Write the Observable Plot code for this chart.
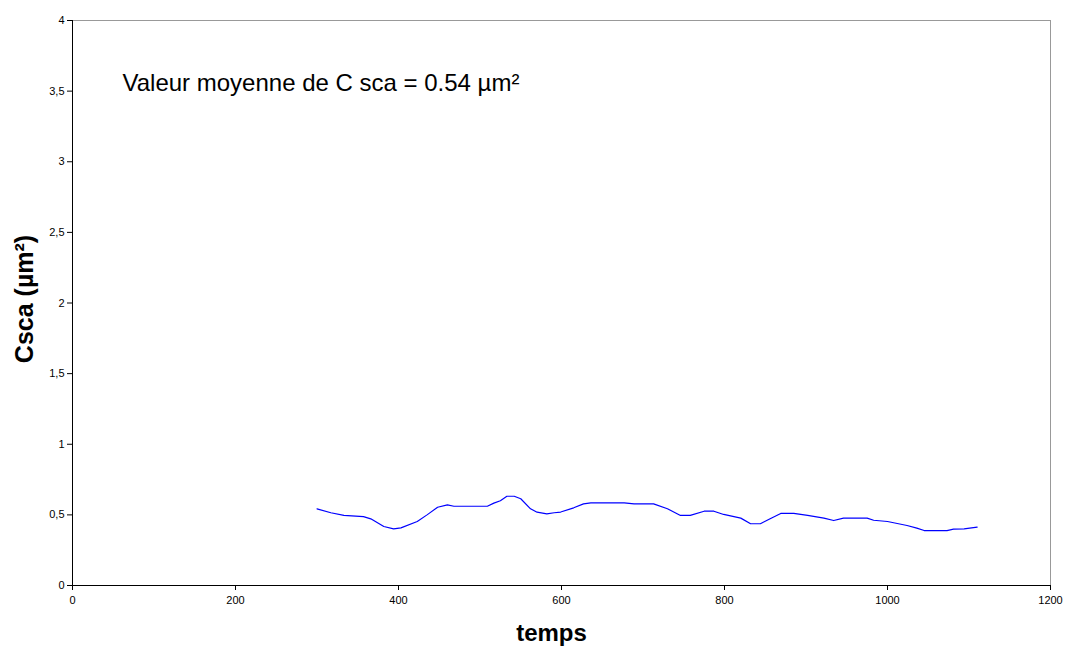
<!DOCTYPE html>
<html>
<head>
<meta charset="utf-8">
<script src="https://cdn.jsdelivr.net/npm/d3@7"></script>
<script src="https://cdn.jsdelivr.net/npm/@observablehq/plot@0.6"></script>
<style>
  html, body { margin: 0; padding: 0; background: #fff; }
  #chart { width: 1065px; height: 650px; }
  svg { font-family: "Liberation Sans", Arial, sans-serif; }
</style>
</head>
<body>
<div id="chart"></div>
<script>
const temps = [300, 317, 333, 357, 366, 382, 394, 403, 423, 435, 448, 460, 468, 509, 517, 525, 533, 542, 550, 562, 570, 582, 591, 599, 615, 627, 636, 677, 689, 713, 730, 746, 758, 775, 787, 799, 820, 832, 844, 856, 869, 885, 902, 922, 934, 946, 975, 983, 1000, 1024, 1036, 1045, 1073, 1081, 1094, 1110];
const csca  = [0.543, 0.515, 0.496, 0.488, 0.472, 0.418, 0.401, 0.408, 0.453, 0.50, 0.554, 0.571, 0.561, 0.561, 0.583, 0.60, 0.632, 0.632, 0.614, 0.543, 0.519, 0.507, 0.515, 0.52, 0.55, 0.578, 0.585, 0.585, 0.578, 0.578, 0.543, 0.496, 0.496, 0.526, 0.526, 0.503, 0.477, 0.437, 0.437, 0.472, 0.51, 0.51, 0.496, 0.477, 0.46, 0.477, 0.477, 0.462, 0.453, 0.425, 0.406, 0.389, 0.389, 0.399, 0.401, 0.413];
const xTicks = [0, 200, 400, 600, 800, 1000, 1200];
const yTicks = [0, 0.5, 1, 1.5, 2, 2.5, 3, 3.5, 4];
const annotation = "Valeur moyenne de C sca = 0.54 µm²";
const xLabel = "temps";
const yLabel = "Csca (µm²)";

const data = temps.map((t, i) => ({t, v: csca[i]}));
const fmt = d => String(d).replace(".", ",");

const plot = Plot.plot({
  width: 1065,
  height: 650,
  marginLeft: 72,
  marginRight: 15,
  marginTop: 20,
  marginBottom: 65,
  style: {fontFamily: "'Liberation Sans', Arial, sans-serif", fontSize: "11px", color: "#000", background: "#fff"},
  x: {domain: [0, 1200], ticks: xTicks, tickFormat: fmt, label: null},
  y: {domain: [0, 4], ticks: yTicks, tickFormat: fmt, label: null},
  marks: [
    Plot.ruleY([4], {stroke: "#999", strokeWidth: 1}),
    Plot.ruleX([1200], {stroke: "#999", strokeWidth: 1}),
    Plot.axisX({ticks: xTicks, tickFormat: fmt, tickSize: 5, tickPadding: 6, stroke: "#000", fill: "#000", fontSize: 11, label: null}),
    Plot.axisY({ticks: yTicks, tickFormat: fmt, tickSize: 5, tickPadding: 3, stroke: "#000", fill: "#000", fontSize: 11, label: null}),
    Plot.ruleX([0], {stroke: "#000", strokeWidth: 1}),
    Plot.ruleY([0], {stroke: "#000", strokeWidth: 1}),
    Plot.line(data, {x: "t", y: "v", stroke: "#0000ff", strokeWidth: 1.2}),
    Plot.text([annotation], {frameAnchor: "top-left", dx: 50, dy: 53, text: d => d, fontSize: 24, fill: "#000", textAnchor: "start"}),
    Plot.text([xLabel], {frameAnchor: "bottom", dx: -10, dy: 55, text: d => d, fontSize: 24, fontWeight: "bold", fill: "#000", textAnchor: "middle"}),
    Plot.text([yLabel], {frameAnchor: "left", dx: -48, dy: -4, rotate: -90, text: d => d, fontSize: 25, fontWeight: "bold", fill: "#000", textAnchor: "middle"})
  ]
});
document.getElementById("chart").appendChild(plot);
</script>
</body>
</html>
